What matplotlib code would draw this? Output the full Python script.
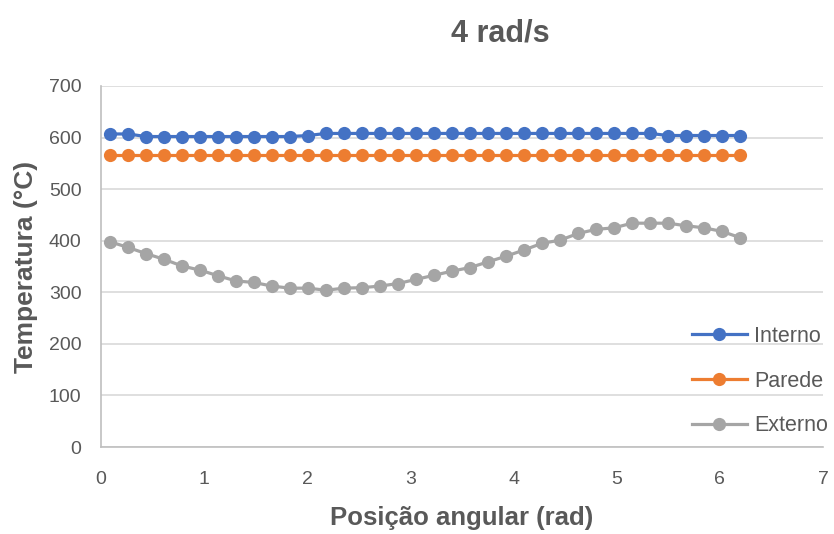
import numpy as np
import matplotlib
matplotlib.use("Agg")
import matplotlib.pyplot as plt
from matplotlib import font_manager

# ---- data ----
step = np.pi / 18
x_pos = [round(step / 2 + k * step, 4) for k in range(36)]

interno = [607, 607, 602, 602, 602, 602, 602, 602, 602, 602, 602, 604,
           608, 608, 608, 608, 608, 608, 608, 608, 608, 608, 608, 608,
           608, 608, 608, 608, 608, 608, 608, 604, 604, 604, 604, 604]
parede = [566] * 36
externo = [398, 387, 375, 364, 351, 343, 332, 322, 319, 312, 308, 308,
           304, 308, 309, 312, 317, 325, 333, 341, 348, 359, 370, 382,
           395, 401, 414, 422, 425, 434, 434, 434, 429, 425, 418, 406]

series_names = ["Interno", "Parede", "Externo"]
series_colors = ["#4472C4", "#ED7D31", "#A5A5A5"]
title = "4 rad/s"
xlabel = "Posição angular (rad)"
ylabel = "Temperatura (°C)"

names = {f.name for f in font_manager.fontManager.ttflist}
narrow = "Liberation Sans Narrow" if "Liberation Sans Narrow" in names else "Liberation Sans"
plt.rcParams['font.family'] = [narrow, 'DejaVu Sans']

txt = "#595959"
fig = plt.figure(figsize=(8.34, 5.34), dpi=100)
ax = fig.add_axes([101 / 834, 1 - 447 / 534, (823 - 101) / 834, (447 - 86) / 534])

lines = []
for vals, name, c in zip([interno, parede, externo], series_names, series_colors):
    ln, = ax.plot(x_pos, vals, color=c, lw=2.3, marker='o', ms=9.5,
                  markeredgewidth=0, label=name, zorder=3)
    lines.append(ln)

ax.set_xlim(0, 7)
ax.set_ylim(0, 700)
ax.set_xticks(range(0, 8))
ax.set_yticks(range(0, 701, 100))
ax.grid(axis='y', color='#D9D9D9', lw=1.2, zorder=0)
for s in ['top', 'right']:
    ax.spines[s].set_visible(False)
for s in ['left', 'bottom']:
    ax.spines[s].set_color('#BFBFBF')
    ax.spines[s].set_linewidth(1.2)
ax.tick_params(length=0, labelsize=14, labelcolor=txt)
ax.tick_params(axis='y', pad=14)
ax.tick_params(axis='x', pad=17.5)

ax.set_xlabel(xlabel, fontsize=18.5, fontweight='bold', color=txt, labelpad=13,
              family=['Liberation Sans', 'DejaVu Sans'])
ax.set_ylabel(ylabel, fontsize=19, fontweight='bold', color=txt, labelpad=8,
              family=['Liberation Sans', 'DejaVu Sans'])
fig.text(500 / 834, 1 - 34 / 534, title, fontsize=22, fontweight='bold', color=txt,
         ha='center', va='center', family=['Liberation Sans', 'DejaVu Sans'])

leg = fig.legend(handles=lines, loc='upper left', bbox_to_anchor=(692 / 834, 1 - 326 / 534),
                 frameon=False, fontsize=15.5, labelspacing=1.1, handlelength=2.55,
                 handletextpad=0.35, borderaxespad=0, borderpad=0)
for t in leg.get_texts():
    t.set_color(txt)

fig.savefig("out.png", dpi=100, facecolor='white')
